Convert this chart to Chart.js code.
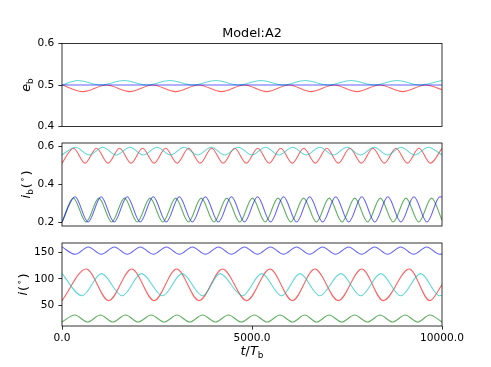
<!DOCTYPE html>
<html><head><meta charset="utf-8">
<script src="https://cdn.jsdelivr.net/npm/chart.js@4.4.0/dist/chart.umd.min.js"></script>
<style>
html,body{margin:0;padding:0;background:#fff;}
#wrap{position:relative;width:491px;height:367px;overflow:hidden;}
canvas{position:absolute;left:0;top:0;}
</style></head><body>
<div id="wrap">
<canvas id="c1" width="491" height="367"></canvas>
<canvas id="c2" width="491" height="367"></canvas>
<canvas id="c3" width="491" height="367"></canvas>
</div>
<script>
// ---------- tick labels ----------
const xTicks = [0, 5000, 10000];
const ebTicks = [0.4, 0.5, 0.6];
const ibTicks = [0.2, 0.4, 0.6];
const iTicks = [50, 100, 150];

// ---------- panel 1 : e_b ----------
const ebBlueT = [0, 10000];
const ebBlueV = [0.5, 0.5];
const ebRedT = [0, 560, 1170, 1780, 2385, 2990, 3595, 4200, 4795, 5390, 5970, 6550, 7155, 7760, 8363, 8966, 9570, 10000];
const ebRedV = [0.500, 0.484, 0.500, 0.484, 0.500, 0.484, 0.500, 0.484, 0.500, 0.484, 0.500, 0.484, 0.500, 0.484, 0.500, 0.484, 0.500, 0.489];
const ebCyanT = [0, 410, 1020, 1630, 2235, 2840, 3445, 4050, 4645, 5240, 5820, 6400, 7005, 7610, 8213, 8816, 9416, 10000];
const ebCyanV = [0.500, 0.511, 0.500, 0.511, 0.500, 0.511, 0.500, 0.511, 0.500, 0.511, 0.500, 0.511, 0.500, 0.511, 0.500, 0.511, 0.500, 0.511];

// ---------- panel 2 : i_b ----------
const ibRedT = [0, 303, 606, 909, 1212, 1515, 1818, 2121, 2424, 2727, 3030, 3333, 3636, 3939, 4242, 4545, 4848, 5151, 5454, 5757, 6060, 6363, 6666, 6969, 7272, 7575, 7878, 8181, 8484, 8787, 9090, 9393, 9696, 10000];
const ibRedV = [0.510, 0.588, 0.510, 0.588, 0.510, 0.588, 0.510, 0.588, 0.510, 0.588, 0.510, 0.588, 0.510, 0.588, 0.510, 0.588, 0.510, 0.588, 0.510, 0.588, 0.510, 0.588, 0.510, 0.588, 0.510, 0.588, 0.510, 0.588, 0.510, 0.588, 0.510, 0.588, 0.510, 0.588];
const ibCyanT = [0, 357, 714, 1071, 1428, 1785, 2142, 2499, 2856, 3213, 3570, 3927, 4284, 4641, 4998, 5355, 5712, 6069, 6426, 6783, 7140, 7497, 7854, 8211, 8568, 8925, 9282, 9639, 10000];
const ibCyanV = [0.553, 0.594, 0.553, 0.594, 0.553, 0.594, 0.553, 0.594, 0.553, 0.594, 0.553, 0.594, 0.553, 0.594, 0.553, 0.594, 0.553, 0.594, 0.553, 0.594, 0.553, 0.594, 0.553, 0.594, 0.553, 0.594, 0.553, 0.594, 0.553];
const ibBlueT = [0, 343, 686, 1029, 1372, 1715, 2058, 2401, 2744, 3087, 3430, 3773, 4116, 4459, 4802, 5145, 5488, 5831, 6174, 6517, 6860, 7203, 7546, 7889, 8232, 8575, 8918, 9261, 9604, 9947, 10000];
const ibBlueV = [0.200, 0.333, 0.200, 0.333, 0.200, 0.333, 0.200, 0.333, 0.200, 0.333, 0.200, 0.333, 0.200, 0.333, 0.200, 0.333, 0.200, 0.333, 0.200, 0.333, 0.200, 0.333, 0.200, 0.333, 0.200, 0.333, 0.200, 0.333, 0.200, 0.333, 0.331];
const ibGreenT = [0, 297, 634, 970, 1307, 1644, 1980, 2317, 2654, 2991, 3327, 3664, 4001, 4338, 4675, 5011, 5348, 5685, 6022, 6358, 6695, 7032, 7369, 7705, 8042, 8379, 8716, 9052, 9389, 9726, 10000];
const ibGreenV = [0.200, 0.326, 0.200, 0.326, 0.200, 0.326, 0.200, 0.326, 0.200, 0.326, 0.200, 0.326, 0.200, 0.326, 0.200, 0.326, 0.200, 0.326, 0.200, 0.326, 0.200, 0.326, 0.200, 0.326, 0.200, 0.326, 0.200, 0.326, 0.200, 0.326, 0.210];

// ---------- panel 3 : i ----------
const iBlueT = [0, 349, 692, 1034, 1377, 1719, 2062, 2404, 2747, 3089, 3432, 3774, 4117, 4459, 4802, 5144, 5487, 5829, 6172, 6514, 6857, 7199, 7542, 7884, 8227, 8569, 8912, 9254, 9597, 9939, 10000];
const iBlueV = [160, 146.3, 160, 146.3, 160, 146.3, 160, 146.3, 160, 146.3, 160, 146.3, 160, 146.3, 160, 146.3, 160, 146.3, 160, 146.3, 160, 146.3, 160, 146.3, 160, 146.3, 160, 146.3, 160, 146.3, 146.8];
const iGreenT = [0, 338, 675, 1008, 1340, 1672, 2004, 2347, 2690, 3025, 3360, 3700, 4040, 4380, 4720, 5060, 5400, 5735, 6070, 6385, 6700, 7030, 7360, 7700, 8040, 8370, 8700, 9030, 9360, 9680, 10000];
const iGreenV = [19.5, 32.6, 19.5, 32.6, 19.5, 32.6, 19.5, 32.6, 19.5, 32.6, 19.5, 32.6, 19.5, 32.6, 19.5, 32.6, 19.5, 32.6, 19.5, 32.6, 19.5, 32.6, 19.5, 32.6, 19.5, 32.6, 19.5, 32.6, 19.5, 32.6, 19.5];
const iRedT = [0, 638, 1229, 1834, 2425, 3016, 3607, 4224, 4860, 5472, 6063, 6654, 7271, 7889, 8454, 9137, 9680, 10000];
const iRedV = [59.5, 118.7, 59.5, 118.7, 59.5, 118.7, 59.5, 118.7, 59.5, 118.7, 59.5, 118.7, 59.5, 118.7, 59.5, 118.7, 59.5, 89];
const iCyanT = [0, 525, 1040, 1584, 2091, 2648, 3160, 3699, 4159, 4750, 5254, 5779, 6260, 6785, 7337, 7862, 8388, 8914, 9439, 9938, 10000];
const iCyanV = [110, 68.7, 110, 68.7, 110, 68.7, 110, 68.7, 110, 68.7, 110, 68.7, 110, 68.7, 110, 68.7, 110, 68.7, 110, 68.7, 69.2];

// ---------- styling ----------
Chart.defaults.font.family = "'DejaVu Sans', sans-serif";
Chart.defaults.color = '#000';
const COL = {b:'rgba(0,0,255,0.62)', r:'rgba(255,0,0,0.62)', c:'rgba(0,191,191,0.62)', g:'rgba(0,128,0,0.62)'};
const FS = 10.6, LFS = 12.8;

function ds(T, V, color){
  return {data: T.map((t,i)=>({x:t, y:V[i]})), borderColor: color, borderWidth: 1.1,
          pointRadius: 0, fill: false, cubicInterpolationMode: 'monotone'};
}

const frame = {id:'frame', afterDatasetsDraw(chart){
  const a = chart.chartArea, c = chart.ctx;
  c.save(); c.strokeStyle = '#000'; c.lineWidth = 0.8;
  c.strokeRect(a.left, a.top, a.right - a.left, a.bottom - a.top); c.restore();
}};

function drawRich(ctx, parts, x, y, rot){
  ctx.save(); ctx.translate(x, y); if (rot) ctx.rotate(-Math.PI/2);
  let w = 0; const ms = [];
  for (const p of parts){
    const size = (p.sub || p.sup) ? LFS*0.7 : LFS;
    const font = (p.it ? 'italic ' : '') + size + "px 'DejaVu Sans'";
    ctx.font = font; const pw = ctx.measureText(p.t).width;
    ms.push({font, pw}); w += pw + (p.gap || 0);
  }
  let cx = -w/2; ctx.textBaseline = 'alphabetic'; ctx.textAlign = 'left'; ctx.fillStyle = '#000';
  parts.forEach((p,i)=>{
    ctx.font = ms[i].font;
    const dy = p.sub ? LFS*0.2 : (p.sup ? -LFS*0.42 : 0);
    ctx.fillText(p.t, cx, dy); cx += ms[i].pw + (p.gap || 0);
  });
  ctx.restore();
}

function labelPlugin(fn){ return {id:'lbl', afterDraw(chart){ fn(chart.ctx); }}; }

function makeChart(id, datasets, yMin, yMax, yTicks, yFmt, area, showX, extra){
  const YW = 40, XH = 20;
  const gridOpt = {drawOnChartArea:false, drawTicks:true, tickLength:3.7, tickColor:'#000', tickWidth:0.8};
  return new Chart(document.getElementById(id), {
    type: 'line',
    data: {datasets},
    options: {
      responsive: false, animation: false, events: [],
      layout: {padding: {left: area.left - YW, top: area.top, right: 491 - area.right,
               bottom: 367 - area.bottom - (showX ? XH : 0)}},
      plugins: {legend:{display:false}, tooltip:{enabled:false}, title:{display:false}},
      scales: {
        x: {type:'linear', min:0, max:10000, display: showX,
            afterBuildTicks(s){ s.ticks = xTicks.map(v=>({value:v})); },
            afterFit(s){ s.height = showX ? XH : 0; },
            ticks: {callback: v => Number(v).toFixed(1), font:{size:FS}, color:'#000', padding:2.5, maxRotation:0, autoSkip:false},
            grid: gridOpt, border:{display:false}},
        y: {type:'linear', min:yMin, max:yMax,
            afterBuildTicks(s){ s.ticks = yTicks.map(v=>({value:v})); },
            afterFit(s){ s.width = YW; },
            ticks: {callback: yFmt, font:{size:FS}, color:'#000', padding:4, autoSkip:false},
            grid: gridOpt, border:{display:false}}
      }
    },
    plugins: [frame, labelPlugin(extra)]
  });
}

const A1 = {left:62, right:442, top:43.5, bottom:126.5};
const A2 = {left:62, right:442, top:143, bottom:226};
const A3 = {left:62, right:442, top:243, bottom:326};
const cx = (A1.left + A1.right)/2;

makeChart('c1', [ds(ebBlueT, ebBlueV, COL.b), ds(ebCyanT, ebCyanV, COL.c), ds(ebRedT, ebRedV, COL.r)],
  0.4, 0.6, ebTicks, v => Number(v).toFixed(1), A1, false, ctx => {
    ctx.save(); ctx.font = LFS + "px 'DejaVu Sans'"; ctx.fillStyle = '#000';
    ctx.textAlign = 'center'; ctx.textBaseline = 'alphabetic';
    ctx.fillText('Model:A2', cx, 37); ctx.restore();
    drawRich(ctx, [{t:'e', it:true}, {t:'b', sub:true}], 30.4, (A1.top + A1.bottom)/2, true);
  });

makeChart('c2', [ds(ibBlueT, ibBlueV, COL.b), ds(ibGreenT, ibGreenV, COL.g), ds(ibCyanT, ibCyanV, COL.c), ds(ibRedT, ibRedV, COL.r)],
  0.179, 0.616, ibTicks, v => Number(v).toFixed(1), A2, false, ctx => {
    drawRich(ctx, [{t:'i', it:true}, {t:'b', sub:true, gap:1}, {t:'(', gap:1}, {t:'\u2218', sup:true, gap:1}, {t:')'}], 30.4, (A2.top + A2.bottom)/2, true);
  });

makeChart('c3', [ds(iBlueT, iBlueV, COL.b), ds(iCyanT, iCyanV, COL.c), ds(iRedT, iRedV, COL.r), ds(iGreenT, iGreenV, COL.g)],
  12.0, 167.4, iTicks, v => String(Math.round(v)), A3, true, ctx => {
    drawRich(ctx, [{t:'i', it:true, gap:1}, {t:'(', gap:1}, {t:'\u2218', sup:true, gap:1}, {t:')'}], 27.4, (A3.top + A3.bottom)/2, true);
    drawRich(ctx, [{t:'t', it:true}, {t:'/'}, {t:'T', it:true}, {t:'b', sub:true}], cx, 355, false);
  });
</script>
</body></html>
